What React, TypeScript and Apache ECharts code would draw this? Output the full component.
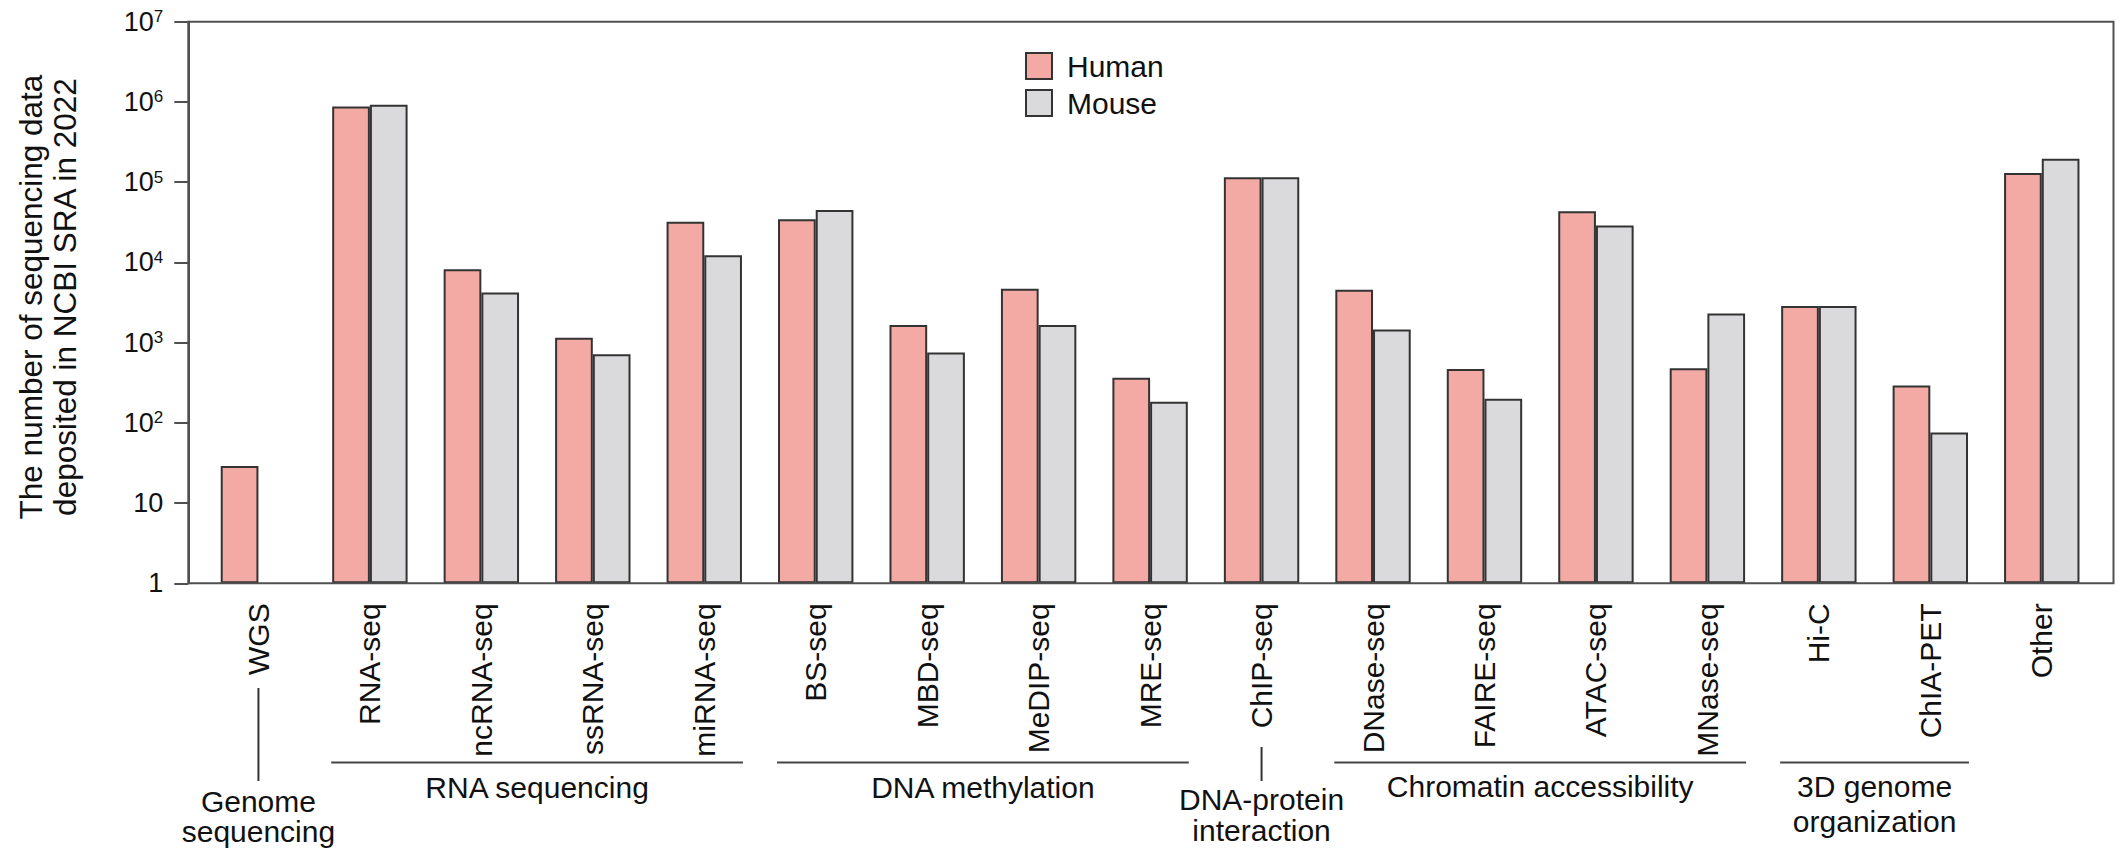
import React, { useEffect, useRef } from "react";
import * as echarts from "echarts";

const categories = [
  "WGS", "RNA-seq", "ncRNA-seq", "ssRNA-seq", "miRNA-seq",
  "BS-seq", "MBD-seq", "MeDIP-seq", "MRE-seq", "ChIP-seq",
  "DNase-seq", "FAIRE-seq", "ATAC-seq", "MNase-seq", "Hi-C", "ChIA-PET", "Other",
];
const humanValues = [29, 880000, 8200, 1150, 32000, 34500, 1660, 4700, 365, 115000, 4570, 470, 43500, 480, 2850, 293, 130000];
const mouseValues = [null, 925000, 4200, 715, 12300, 45000, 755, 1660, 183, 115000, 1460, 200, 28900, 2310, 2850, 76, 196000];
const seriesNames = ["Human", "Mouse"];
const yTitle = "The number of sequencing data\ndeposited in NCBI SRA in 2022";

// category groups drawn under the axis labels
const groups = [
  { name: "Genome\nsequencing", from: 0, to: 0 },
  { name: "RNA sequencing", from: 1, to: 4 },
  { name: "DNA methylation", from: 5, to: 8 },
  { name: "DNA-protein\ninteraction", from: 9, to: 9 },
  { name: "Chromatin accessibility", from: 10, to: 13 },
  { name: "3D genome\norganization", from: 14, to: 15 },
];

const FONT = "'Liberation Sans', Arial, Helvetica, sans-serif";
const W = 2122;
const H = 860;
const GRID_LEFT = 202.7;
const GRID_RIGHT = 24.5;
const GRID_TOP = 21.7;
const GRID_BOTTOM = 276.7;
const AXIS_OFFSET = 14.4;
const BAR_W = 37.7;
const FRAME_RIGHT = 2113.5;
const LINE_COLOR = "#505050";

export default function App() {
  const ref = useRef<HTMLDivElement>(null);

  useEffect(() => {
    if (!ref.current) return;
    const chart = echarts.init(ref.current, null, { renderer: "svg" });

    chart.setOption({
      animation: false,
      backgroundColor: "#ffffff",
      textStyle: { fontFamily: FONT },
      grid: {
        left: GRID_LEFT,
        right: GRID_RIGHT,
        top: GRID_TOP,
        bottom: GRID_BOTTOM,
        containLabel: false,
        outerBoundsMode: "none",
      },
      legend: {
        orient: "vertical",
        left: 1025,
        top: 51,
        padding: 0,
        itemWidth: 26,
        itemHeight: 26,
        itemGap: 7,
        icon: "rect",
        data: seriesNames,
        itemStyle: { borderColor: "#333333", borderWidth: 2 },
        textStyle: {
          fontSize: 30,
          color: "#111111",
          fontFamily: FONT,
          lineHeight: 26,
          padding: [0, 0, 0, 10],
        },
      },
      xAxis: {
        type: "category",
        data: categories,
        axisLine: { show: false },
        axisTick: { show: false },
        axisLabel: {
          rotate: 90,
          margin: 20,
          fontSize: 30,
          color: "#111111",
          fontFamily: FONT,
          interval: 0,
        },
      },
      yAxis: {
        type: "log",
        logBase: 10,
        min: 1,
        max: 1e7,
        interval: 1,
        splitNumber: 7,
        offset: AXIS_OFFSET,
        axisLine: { show: true, lineStyle: { color: LINE_COLOR, width: 2 } },
        axisTick: { show: true, length: 14, lineStyle: { color: LINE_COLOR, width: 2 } },
        splitLine: { show: false },
        axisLabel: {
          margin: 25,
          color: "#111111",
          fontFamily: FONT,
          fontSize: 27,
          formatter: (v: number) => {
            const e = Math.round(Math.log10(v));
            if (e === 0) return "{b|1}";
            if (e === 1) return "{b|10}";
            return "{b|10}{s|" + e + "}";
          },
          rich: {
            b: { fontSize: 27, lineHeight: 27, fontFamily: FONT, color: "#111111" },
            s: { fontSize: 17, lineHeight: 17, fontFamily: FONT, color: "#111111", verticalAlign: "top" },
          },
        },
      },
      series: [
        {
          name: seriesNames[0],
          type: "bar",
          data: humanValues,
          barWidth: BAR_W,
          barGap: "0%",
          itemStyle: { color: "#F3AAA5", borderColor: "#333333", borderWidth: 2 },
        },
        {
          name: seriesNames[1],
          type: "bar",
          data: mouseValues.map((v) => (v == null ? "-" : v)),
          barWidth: BAR_W,
          barGap: "0%",
          itemStyle: { color: "#DADADC", borderColor: "#333333", borderWidth: 2 },
        },
      ],
    });

    // annotations computed from the axis scales
    const cx = (i: number) => chart.convertToPixel({ xAxisIndex: 0 }, i) as number;
    const yBottom = chart.convertToPixel({ yAxisIndex: 0 }, 1) as number;
    const yTop = chart.convertToPixel({ yAxisIndex: 0 }, 1e7) as number;
    const axisX = GRID_LEFT - AXIS_OFFSET;

    const textStyle = (text: string, lh: number, fs = 30) => ({
      text,
      fontSize: fs,
      fontFamily: FONT,
      fill: "#111111",
      align: "center",
      textAlign: "center",
      verticalAlign: "middle",
      textVerticalAlign: "middle",
      lineHeight: lh,
    });

    const graphics: any[] = [
      {
        type: "rect",
        shape: { x: axisX, y: yTop, width: FRAME_RIGHT - axisX, height: yBottom - yTop },
        style: { fill: "none", stroke: LINE_COLOR, lineWidth: 2 },
        z: 5,
        silent: true,
      },
      {
        type: "text",
        x: 48,
        y: 297,
        rotation: Math.PI / 2,
        style: textStyle(yTitle, 34, 31.5),
      },
    ];

    const textY: Record<string, [number, number]> = {
      "Genome\nsequencing": [816.5, 30],
      "RNA sequencing": [787, 30],
      "DNA methylation": [787, 30],
      "DNA-protein\ninteraction": [815, 31],
      "Chromatin accessibility": [786, 30],
      "3D genome\norganization": [803.5, 35],
    };

    groups.forEach((g) => {
      const x0 = cx(g.from);
      const x1 = cx(g.to);
      const mid = (x0 + x1) / 2;
      if (g.from === g.to) {
        const startY = g.from === 0 ? 688 : 747;
        graphics.push({
          type: "line",
          shape: { x1: mid, y1: startY, x2: mid, y2: 781 },
          style: { stroke: "#333333", lineWidth: 2 },
        });
      } else {
        graphics.push({
          type: "line",
          shape: { x1: x0 - BAR_W - 1, y1: 762.5, x2: x1 + BAR_W + 1, y2: 762.5 },
          style: { stroke: "#444444", lineWidth: 2 },
        });
      }
      const [ty, lh] = textY[g.name];
      graphics.push({ type: "text", x: mid, y: ty, style: textStyle(g.name, lh) });
    });

    chart.setOption({ graphic: graphics });

    return () => chart.dispose();
  }, []);

  return (
    <div
      ref={ref}
      style={{ position: "absolute", left: 0, top: 0, width: W, height: H, background: "#ffffff" }}
    />
  );
}
